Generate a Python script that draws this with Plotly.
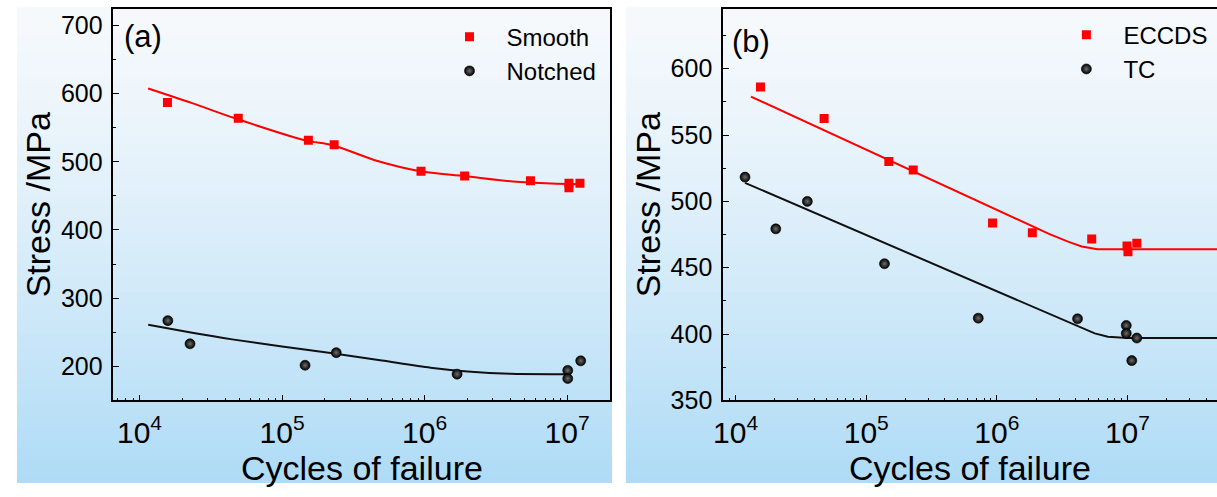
import plotly.graph_objects as go

W, H = 1217, 497
FONT = "Liberation Sans, Arial, sans-serif"

# ---------------- Panel (a) data ----------------
smooth_cycles = [1.57e4, 4.93e4, 1.53e5, 2.32e5, 9.44e5, 1.91e6, 5.53e6, 1.03e7, 1.03e7, 1.23e7]
smooth_stress = [587, 564, 531.5, 525, 486, 479, 472, 468.5, 462, 468.5]

notched_cycles = [1.58e4, 2.26e4, 1.45e5, 2.40e5, 1.69e6, 1.01e7, 1.01e7, 1.245e7]
notched_stress = [267, 233, 201.5, 220, 188.5, 194, 182, 208]

fitA_smooth_cycles = [1.15e4, 2.34e4, 4.79e4, 1.48e5, 2.24e5, 4.68e5, 9.33e5, 1.91e6, 4.17e6, 7.76e6, 1.23e7]
fitA_smooth_stress = [607.5, 586, 563, 531, 524.5, 501, 486, 479, 471, 468, 467]

fitA_notched_cycles = [1.15e4, 2.24e4, 4.47e4, 1.0e5, 2.19e5, 5.01e5, 1.1e6, 2.0e6, 3.98e6, 1.0e7]
fitA_notched_stress = [261, 250, 239.5, 229, 219.5, 208.5, 198, 192.5, 189, 188.5]

# ---------------- Panel (b) data ----------------
eccds_cycles = [1.55e4, 4.76e4, 1.49e5, 2.29e5, 9.27e5, 1.87e6, 5.33e6, 9.93e6, 1.01e7, 1.18e7]
eccds_stress = [586.3, 562.4, 530, 523.7, 483.7, 476.3, 471.7, 466.3, 462, 468.5]

tc_cycles = [1.18e4, 2.03e4, 3.54e4, 1.38e5, 7.21e5, 4.15e6, 9.8e6, 9.8e6, 1.18e7, 1.08e7]
tc_stress = [518.3, 479.3, 500, 453, 412, 411.5, 406.5, 400.5, 397, 380]

fitB_eccds_cycles = [1.31e4, 1.0e5, 1.0e6, 2.51e6, 3.55e6, 4.47e6, 5.89e6, 1.0e7, 5.0e7]
fitB_eccds_stress = [579, 539, 493.5, 475.5, 469.5, 466, 464, 464, 464]

fitB_tc_cycles = [1.18e4, 1.0e5, 1.0e6, 2.51e6, 3.55e6, 4.47e6, 5.62e6, 7.08e6, 1.0e7, 5.0e7]
fitB_tc_stress = [514, 474.5, 432, 415, 408.7, 404.5, 400.5, 398, 397, 397]

RED = "#ff0000"
sq = dict(symbol="square", size=9, color=RED, line=dict(width=0))
ball = dict(symbol="circle", size=10, color="#000000",
            gradient=dict(type="radial", color="#6e6e6e"),
            line=dict(width=0.6, color="#000000"))

fig = go.Figure()
# panel (a)
fig.add_trace(go.Scatter(x=fitA_smooth_cycles, y=fitA_smooth_stress, mode="lines",
                         line=dict(color=RED, width=2, shape="spline", smoothing=0.8),
                         showlegend=False, xaxis="x", yaxis="y"))
fig.add_trace(go.Scatter(x=fitA_notched_cycles, y=fitA_notched_stress, mode="lines",
                         line=dict(color="#111111", width=2, shape="spline", smoothing=0.8),
                         showlegend=False, xaxis="x", yaxis="y"))
fig.add_trace(go.Scatter(x=smooth_cycles, y=smooth_stress, mode="markers", marker=sq,
                         name="Smooth", legend="legend", xaxis="x", yaxis="y"))
fig.add_trace(go.Scatter(x=notched_cycles, y=notched_stress, mode="markers", marker=ball,
                         name="Notched", legend="legend", xaxis="x", yaxis="y"))
# panel (b)
fig.add_trace(go.Scatter(x=fitB_eccds_cycles, y=fitB_eccds_stress, mode="lines",
                         line=dict(color=RED, width=2), showlegend=False, xaxis="x2", yaxis="y2"))
fig.add_trace(go.Scatter(x=fitB_tc_cycles, y=fitB_tc_stress, mode="lines",
                         line=dict(color="#111111", width=2), showlegend=False, xaxis="x2", yaxis="y2"))
fig.add_trace(go.Scatter(x=eccds_cycles, y=eccds_stress, mode="markers", marker=sq,
                         name="ECCDS", legend="legend2", xaxis="x2", yaxis="y2"))
fig.add_trace(go.Scatter(x=tc_cycles, y=tc_stress, mode="markers", marker=ball,
                         name="TC", legend="legend2", xaxis="x2", yaxis="y2"))

# background gradient panels
shapes = []
N = 70
top_c = (246, 249, 252)
bot_c = (174, 219, 246)
y_top = 1 - 8 / H
for x0, x1 in [(7 / W, 607 / W), (621 / W, 1.0)]:
    for i in range(N):
        ya = y_top * (1 - i / N)
        yb = y_top * (1 - (i + 1) / N)
        t = ((i + 0.5) / N) ** 1.3
        c = tuple(round(top_c[k] + (bot_c[k] - top_c[k]) * t) for k in range(3))
        shapes.append(dict(type="rect", xref="paper", yref="paper", x0=x0, x1=x1,
                           y0=yb, y1=ya + 0.002, layer="below", line=dict(width=0),
                           fillcolor="rgb(%d,%d,%d)" % c))

ydom = [1 - 412 / H, 1 - 9.3 / H]
common_x = dict(type="log", dtick=1, exponentformat="power", showgrid=False, zeroline=False,
                showline=True, linecolor="#000000", linewidth=1.5, mirror=True,
                ticks="inside", ticklen=6, tickwidth=1.2, tickcolor="#000000",
                tickfont=dict(size=24, color="#000000", family=FONT),
                minor=dict(dtick="D1", ticks="inside", ticklen=3, tickwidth=1, tickcolor="#000000"),
                ticklabelstandoff=6)
common_y = dict(showgrid=False, zeroline=False, showline=True, linecolor="#000000", linewidth=1.5,
                ticks="inside", ticklen=6, tickwidth=1.2, tickcolor="#000000",
                tickfont=dict(size=25, color="#000000", family=FONT), ticklabelstandoff=4)

fig.update_layout(
    width=W, height=H, margin=dict(l=0, r=0, t=0, b=0),
    paper_bgcolor="#ffffff", plot_bgcolor="rgba(0,0,0,0)",
    font=dict(family=FONT, color="#000000"),
    shapes=shapes,
    xaxis=dict(common_x, domain=[104.3 / W, 605 / W], range=[3.817, 7.301], anchor="y"),
    yaxis=dict(common_y, domain=ydom, range=[150, 724], dtick=100, mirror=True,
               minor=dict(dtick=50, ticks="inside", ticklen=3, tickwidth=1, tickcolor="#000000"),
               anchor="x"),
    xaxis2=dict(common_x, domain=[719 / W, 1.0], range=[3.904, 7.686], anchor="y2"),
    yaxis2=dict(common_y, domain=ydom, range=[350, 645], dtick=50, mirror=False,
                minor=dict(dtick=25, ticks="inside", ticklen=3, tickwidth=1, tickcolor="#000000"),
                anchor="x2"),
    legend=dict(x=426 / W, y=1 - 15 / H, xanchor="left", yanchor="top", bgcolor="rgba(0,0,0,0)",
                font=dict(size=24, family=FONT), itemwidth=64, tracegroupgap=0),
    legend2=dict(x=1048 / W, y=1 - 13 / H, xanchor="left", yanchor="top", bgcolor="rgba(0,0,0,0)",
                 font=dict(size=24, family=FONT), itemwidth=64, tracegroupgap=0),
    annotations=[
        dict(text="Stress /MPa", x=28 / W, y=1 - 210.5 / H, xref="paper", yref="paper",
             textangle=-90, showarrow=False, font=dict(size=34), xanchor="center", yanchor="middle"),
        dict(text="Stress /MPa", x=643 / W, y=1 - 210.5 / H, xref="paper", yref="paper",
             textangle=-90, showarrow=False, font=dict(size=34), xanchor="center", yanchor="middle"),
        dict(text="Cycles of failure", x=354.7 / W, y=1 - 482 / H, xref="paper", yref="paper",
             showarrow=False, font=dict(size=34), xanchor="center", yanchor="middle"),
        dict(text="Cycles of failure", x=968 / W, y=1 - 482 / H, xref="paper", yref="paper",
             showarrow=False, font=dict(size=34), xanchor="center", yanchor="middle"),
        dict(text="(a)", x=113 / W, y=1 - 38 / H, xref="paper", yref="paper",
             showarrow=False, font=dict(size=31), xanchor="left", yanchor="middle"),
        dict(text="(b)", x=726 / W, y=1 - 43 / H, xref="paper", yref="paper",
             showarrow=False, font=dict(size=31), xanchor="left", yanchor="middle"),
    ],
)

fig.write_html("out.html")
